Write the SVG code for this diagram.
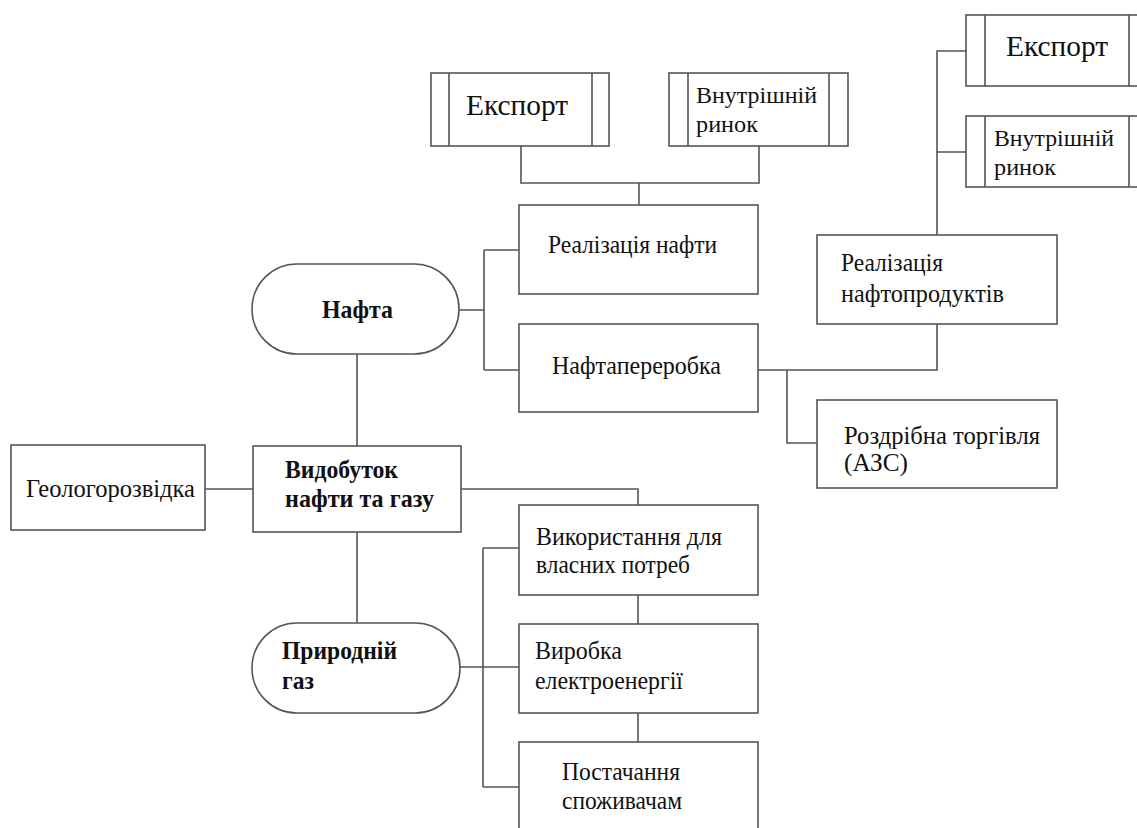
<svg xmlns="http://www.w3.org/2000/svg" width="1137" height="828" viewBox="0 0 1137 828">
<rect width="1137" height="828" fill="#fff"/>
<g id="connectors" fill="none" stroke="#555" stroke-width="1.6">
<path d="M521 146V183H759V146M639 183V205"/>
<path d="M937 235V51H966M937 152H966"/>
<path d="M459 310H484M484 250V370M484 250H519M484 370H519"/>
<path d="M758 370H937V324M787 370V443H817"/>
<path d="M357 354V446"/>
<path d="M205 489H253"/>
<path d="M461 489H638V505"/>
<path d="M357 532V623"/>
<path d="M460 667H519M483 548V787M483 548H519M483 787H519"/>
<path d="M638 595V624M638 713V742"/>
</g>
<g fill="#fff" stroke="#555" stroke-width="1.6">
<g id="export1"><rect x="431" y="73" width="178" height="73"/><path fill="none" d="M449 73V146M592 73V146"/><text x="466" y="115" stroke="none" fill="#111" style="font-family:'Liberation Serif',serif;font-size:29px" textLength="102" lengthAdjust="spacingAndGlyphs">Експорт</text></g>
<g id="domestic1"><rect x="669" y="73" width="179" height="73"/><path fill="none" d="M688 73V146M829 73V146"/><text x="696" y="103" stroke="none" fill="#111" style="font-family:'Liberation Serif',serif;font-size:24px" textLength="121" lengthAdjust="spacingAndGlyphs">Внутрішній</text><text x="696" y="132" stroke="none" fill="#111" style="font-family:'Liberation Serif',serif;font-size:24px" textLength="62" lengthAdjust="spacingAndGlyphs">ринок</text></g>
<g id="export2"><rect x="966" y="15" width="180" height="71"/><path fill="none" d="M985 15V86M1129 15V86"/><text x="1006" y="56" stroke="none" fill="#111" style="font-family:'Liberation Serif',serif;font-size:29px" textLength="102" lengthAdjust="spacingAndGlyphs">Експорт</text></g>
<g id="domestic2"><rect x="966" y="116" width="180" height="71"/><path fill="none" d="M985 116V187M1129 116V187"/><text x="994" y="146" stroke="none" fill="#111" style="font-family:'Liberation Serif',serif;font-size:24px" textLength="120" lengthAdjust="spacingAndGlyphs">Внутрішній</text><text x="994" y="175" stroke="none" fill="#111" style="font-family:'Liberation Serif',serif;font-size:24px" textLength="62" lengthAdjust="spacingAndGlyphs">ринок</text></g>
<g id="oilsale"><rect x="519" y="205" width="239" height="89"/><text x="548" y="253" stroke="none" fill="#111" style="font-family:'Liberation Serif',serif;font-size:26px" textLength="169" lengthAdjust="spacingAndGlyphs">Реалізація нафти</text></g>
<g id="productsale"><rect x="817" y="235" width="240" height="89"/><text x="841" y="271" stroke="none" fill="#111" style="font-family:'Liberation Serif',serif;font-size:26px" textLength="102" lengthAdjust="spacingAndGlyphs">Реалізація</text><text x="841" y="302" stroke="none" fill="#111" style="font-family:'Liberation Serif',serif;font-size:26px" textLength="163" lengthAdjust="spacingAndGlyphs">нафтопродуктів</text></g>
<g id="oil"><rect x="252" y="264" width="207" height="90" rx="45"/><text x="322" y="318" stroke="none" fill="#111" style="font-family:'Liberation Serif',serif;font-size:26px;font-weight:bold" textLength="71" lengthAdjust="spacingAndGlyphs">Нафта</text></g>
<g id="refining"><rect x="519" y="324" width="239" height="88"/><text x="552" y="374" stroke="none" fill="#111" style="font-family:'Liberation Serif',serif;font-size:26px" textLength="169" lengthAdjust="spacingAndGlyphs">Нафтапереробка</text></g>
<g id="retail"><rect x="817" y="400" width="240" height="88"/><text x="844" y="444" stroke="none" fill="#111" style="font-family:'Liberation Serif',serif;font-size:26px" textLength="196" lengthAdjust="spacingAndGlyphs">Роздрібна торгівля</text><text x="844" y="471" stroke="none" fill="#111" style="font-family:'Liberation Serif',serif;font-size:26px" textLength="64" lengthAdjust="spacingAndGlyphs">(АЗС)</text></g>
<g id="geo"><rect x="11" y="445" width="194" height="85"/><text x="26" y="497" stroke="none" fill="#111" style="font-family:'Liberation Serif',serif;font-size:25px" textLength="169" lengthAdjust="spacingAndGlyphs">Геологорозвідка</text></g>
<g id="extraction"><rect x="253" y="446" width="208" height="86"/><text x="285" y="478" stroke="none" fill="#111" style="font-family:'Liberation Serif',serif;font-size:26px;font-weight:bold" textLength="113" lengthAdjust="spacingAndGlyphs">Видобуток</text><text x="285" y="507" stroke="none" fill="#111" style="font-family:'Liberation Serif',serif;font-size:26px;font-weight:bold" textLength="149" lengthAdjust="spacingAndGlyphs">нафти та газу</text></g>
<g id="ownuse"><rect x="519" y="505" width="239" height="90"/><text x="536" y="545" stroke="none" fill="#111" style="font-family:'Liberation Serif',serif;font-size:26px" textLength="186" lengthAdjust="spacingAndGlyphs">Використання для</text><text x="536" y="573" stroke="none" fill="#111" style="font-family:'Liberation Serif',serif;font-size:26px" textLength="154" lengthAdjust="spacingAndGlyphs">власних потреб</text></g>
<g id="gas"><rect x="252" y="623" width="208" height="90" rx="45"/><text x="282" y="659" stroke="none" fill="#111" style="font-family:'Liberation Serif',serif;font-size:26px;font-weight:bold" textLength="115" lengthAdjust="spacingAndGlyphs">Природній</text><text x="282" y="689" stroke="none" fill="#111" style="font-family:'Liberation Serif',serif;font-size:26px;font-weight:bold" textLength="32" lengthAdjust="spacingAndGlyphs">газ</text></g>
<g id="power"><rect x="519" y="624" width="239" height="89"/><text x="535" y="659" stroke="none" fill="#111" style="font-family:'Liberation Serif',serif;font-size:26px" textLength="87" lengthAdjust="spacingAndGlyphs">Виробка</text><text x="535" y="689" stroke="none" fill="#111" style="font-family:'Liberation Serif',serif;font-size:26px" textLength="148" lengthAdjust="spacingAndGlyphs">електроенергії</text></g>
<g id="supply"><rect x="519" y="742" width="239" height="100"/><text x="562" y="780" stroke="none" fill="#111" style="font-family:'Liberation Serif',serif;font-size:26px" textLength="118" lengthAdjust="spacingAndGlyphs">Постачання</text><text x="562" y="809" stroke="none" fill="#111" style="font-family:'Liberation Serif',serif;font-size:26px" textLength="120" lengthAdjust="spacingAndGlyphs">споживачам</text></g>
</g>
</svg>
